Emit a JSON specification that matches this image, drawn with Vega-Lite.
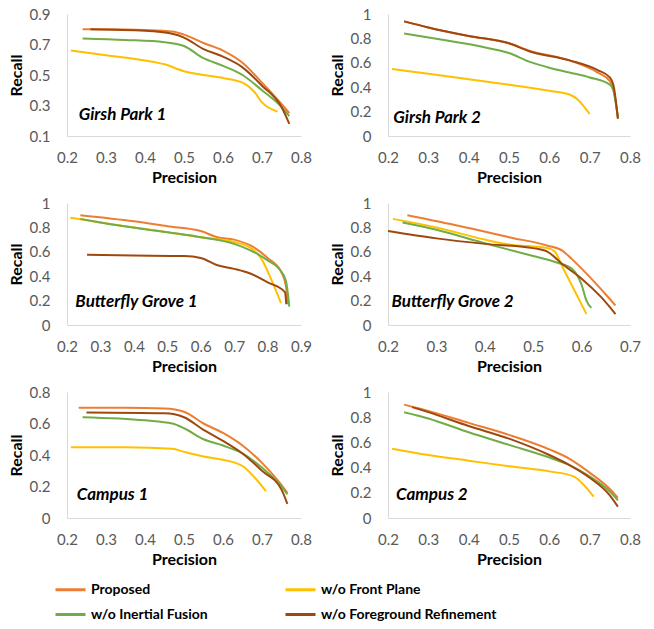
{
  "$schema": "https://vega.github.io/schema/vega-lite/v6.json",
  "padding": {"left": 8, "top": 7, "right": 5, "bottom": 5},
  "spacing": 11,
  "data": {"values": [
    {"panel":"GP1","method":"Proposed","p":0.24,"r":0.80},{"panel":"GP1","method":"Proposed","p":0.3,"r":0.80},{"panel":"GP1","method":"Proposed","p":0.4,"r":0.795},{"panel":"GP1","method":"Proposed","p":0.47,"r":0.785},{"panel":"GP1","method":"Proposed","p":0.5,"r":0.765},{"panel":"GP1","method":"Proposed","p":0.55,"r":0.71},{"panel":"GP1","method":"Proposed","p":0.6,"r":0.66},{"panel":"GP1","method":"Proposed","p":0.65,"r":0.58},{"panel":"GP1","method":"Proposed","p":0.7,"r":0.45},{"panel":"GP1","method":"Proposed","p":0.75,"r":0.31},{"panel":"GP1","method":"Proposed","p":0.77,"r":0.25},
    {"panel":"GP1","method":"w/o Front Plane","p":0.21,"r":0.66},{"panel":"GP1","method":"w/o Front Plane","p":0.3,"r":0.63},{"panel":"GP1","method":"w/o Front Plane","p":0.4,"r":0.595},{"panel":"GP1","method":"w/o Front Plane","p":0.45,"r":0.57},{"panel":"GP1","method":"w/o Front Plane","p":0.5,"r":0.525},{"panel":"GP1","method":"w/o Front Plane","p":0.55,"r":0.50},{"panel":"GP1","method":"w/o Front Plane","p":0.6,"r":0.48},{"panel":"GP1","method":"w/o Front Plane","p":0.65,"r":0.45},{"panel":"GP1","method":"w/o Front Plane","p":0.68,"r":0.39},{"panel":"GP1","method":"w/o Front Plane","p":0.7,"r":0.32},{"panel":"GP1","method":"w/o Front Plane","p":0.74,"r":0.26},
    {"panel":"GP1","method":"w/o Inertial Fusion","p":0.24,"r":0.74},{"panel":"GP1","method":"w/o Inertial Fusion","p":0.35,"r":0.73},{"panel":"GP1","method":"w/o Inertial Fusion","p":0.45,"r":0.715},{"panel":"GP1","method":"w/o Inertial Fusion","p":0.5,"r":0.69},{"panel":"GP1","method":"w/o Inertial Fusion","p":0.55,"r":0.61},{"panel":"GP1","method":"w/o Inertial Fusion","p":0.6,"r":0.56},{"panel":"GP1","method":"w/o Inertial Fusion","p":0.65,"r":0.50},{"panel":"GP1","method":"w/o Inertial Fusion","p":0.7,"r":0.40},{"panel":"GP1","method":"w/o Inertial Fusion","p":0.75,"r":0.29},{"panel":"GP1","method":"w/o Inertial Fusion","p":0.77,"r":0.23},
    {"panel":"GP1","method":"w/o Foreground Refinement","p":0.26,"r":0.80},{"panel":"GP1","method":"w/o Foreground Refinement","p":0.4,"r":0.79},{"panel":"GP1","method":"w/o Foreground Refinement","p":0.47,"r":0.77},{"panel":"GP1","method":"w/o Foreground Refinement","p":0.5,"r":0.745},{"panel":"GP1","method":"w/o Foreground Refinement","p":0.55,"r":0.67},{"panel":"GP1","method":"w/o Foreground Refinement","p":0.6,"r":0.62},{"panel":"GP1","method":"w/o Foreground Refinement","p":0.65,"r":0.55},{"panel":"GP1","method":"w/o Foreground Refinement","p":0.7,"r":0.43},{"panel":"GP1","method":"w/o Foreground Refinement","p":0.75,"r":0.29},{"panel":"GP1","method":"w/o Foreground Refinement","p":0.77,"r":0.18},

    {"panel":"GP2","method":"Proposed","p":0.24,"r":0.94},{"panel":"GP2","method":"Proposed","p":0.3,"r":0.89},{"panel":"GP2","method":"Proposed","p":0.4,"r":0.82},{"panel":"GP2","method":"Proposed","p":0.5,"r":0.76},{"panel":"GP2","method":"Proposed","p":0.55,"r":0.70},{"panel":"GP2","method":"Proposed","p":0.65,"r":0.62},{"panel":"GP2","method":"Proposed","p":0.72,"r":0.52},{"panel":"GP2","method":"Proposed","p":0.75,"r":0.45},{"panel":"GP2","method":"Proposed","p":0.76,"r":0.36},{"panel":"GP2","method":"Proposed","p":0.77,"r":0.15},
    {"panel":"GP2","method":"w/o Front Plane","p":0.21,"r":0.55},{"panel":"GP2","method":"w/o Front Plane","p":0.3,"r":0.51},{"panel":"GP2","method":"w/o Front Plane","p":0.4,"r":0.465},{"panel":"GP2","method":"w/o Front Plane","p":0.5,"r":0.42},{"panel":"GP2","method":"w/o Front Plane","p":0.6,"r":0.37},{"panel":"GP2","method":"w/o Front Plane","p":0.65,"r":0.34},{"panel":"GP2","method":"w/o Front Plane","p":0.67,"r":0.30},{"panel":"GP2","method":"w/o Front Plane","p":0.7,"r":0.18},
    {"panel":"GP2","method":"w/o Inertial Fusion","p":0.24,"r":0.84},{"panel":"GP2","method":"w/o Inertial Fusion","p":0.35,"r":0.78},{"panel":"GP2","method":"w/o Inertial Fusion","p":0.45,"r":0.72},{"panel":"GP2","method":"w/o Inertial Fusion","p":0.5,"r":0.68},{"panel":"GP2","method":"w/o Inertial Fusion","p":0.55,"r":0.61},{"panel":"GP2","method":"w/o Inertial Fusion","p":0.6,"r":0.56},{"panel":"GP2","method":"w/o Inertial Fusion","p":0.65,"r":0.52},{"panel":"GP2","method":"w/o Inertial Fusion","p":0.7,"r":0.48},{"panel":"GP2","method":"w/o Inertial Fusion","p":0.75,"r":0.42},{"panel":"GP2","method":"w/o Inertial Fusion","p":0.76,"r":0.36},{"panel":"GP2","method":"w/o Inertial Fusion","p":0.77,"r":0.15},
    {"panel":"GP2","method":"w/o Foreground Refinement","p":0.24,"r":0.94},{"panel":"GP2","method":"w/o Foreground Refinement","p":0.3,"r":0.89},{"panel":"GP2","method":"w/o Foreground Refinement","p":0.4,"r":0.82},{"panel":"GP2","method":"w/o Foreground Refinement","p":0.5,"r":0.76},{"panel":"GP2","method":"w/o Foreground Refinement","p":0.55,"r":0.695},{"panel":"GP2","method":"w/o Foreground Refinement","p":0.65,"r":0.62},{"panel":"GP2","method":"w/o Foreground Refinement","p":0.72,"r":0.54},{"panel":"GP2","method":"w/o Foreground Refinement","p":0.75,"r":0.48},{"panel":"GP2","method":"w/o Foreground Refinement","p":0.76,"r":0.40},{"panel":"GP2","method":"w/o Foreground Refinement","p":0.77,"r":0.14},

    {"panel":"BG1","method":"Proposed","p":0.24,"r":0.90},{"panel":"BG1","method":"Proposed","p":0.4,"r":0.85},{"panel":"BG1","method":"Proposed","p":0.5,"r":0.81},{"panel":"BG1","method":"Proposed","p":0.6,"r":0.77},{"panel":"BG1","method":"Proposed","p":0.65,"r":0.72},{"panel":"BG1","method":"Proposed","p":0.7,"r":0.70},{"panel":"BG1","method":"Proposed","p":0.75,"r":0.65},{"panel":"BG1","method":"Proposed","p":0.8,"r":0.55},{"panel":"BG1","method":"Proposed","p":0.84,"r":0.44},{"panel":"BG1","method":"Proposed","p":0.855,"r":0.32},{"panel":"BG1","method":"Proposed","p":0.86,"r":0.17},
    {"panel":"BG1","method":"w/o Front Plane","p":0.21,"r":0.88},{"panel":"BG1","method":"w/o Front Plane","p":0.3,"r":0.84},{"panel":"BG1","method":"w/o Front Plane","p":0.5,"r":0.76},{"panel":"BG1","method":"w/o Front Plane","p":0.6,"r":0.72},{"panel":"BG1","method":"w/o Front Plane","p":0.7,"r":0.68},{"panel":"BG1","method":"w/o Front Plane","p":0.75,"r":0.63},{"panel":"BG1","method":"w/o Front Plane","p":0.78,"r":0.55},{"panel":"BG1","method":"w/o Front Plane","p":0.81,"r":0.38},{"panel":"BG1","method":"w/o Front Plane","p":0.84,"r":0.18},
    {"panel":"BG1","method":"w/o Inertial Fusion","p":0.24,"r":0.87},{"panel":"BG1","method":"w/o Inertial Fusion","p":0.3,"r":0.84},{"panel":"BG1","method":"w/o Inertial Fusion","p":0.5,"r":0.76},{"panel":"BG1","method":"w/o Inertial Fusion","p":0.6,"r":0.72},{"panel":"BG1","method":"w/o Inertial Fusion","p":0.7,"r":0.665},{"panel":"BG1","method":"w/o Inertial Fusion","p":0.75,"r":0.61},{"panel":"BG1","method":"w/o Inertial Fusion","p":0.8,"r":0.53},{"panel":"BG1","method":"w/o Inertial Fusion","p":0.84,"r":0.44},{"panel":"BG1","method":"w/o Inertial Fusion","p":0.855,"r":0.36},{"panel":"BG1","method":"w/o Inertial Fusion","p":0.865,"r":0.15},
    {"panel":"BG1","method":"w/o Foreground Refinement","p":0.26,"r":0.575},{"panel":"BG1","method":"w/o Foreground Refinement","p":0.4,"r":0.57},{"panel":"BG1","method":"w/o Foreground Refinement","p":0.55,"r":0.565},{"panel":"BG1","method":"w/o Foreground Refinement","p":0.6,"r":0.55},{"panel":"BG1","method":"w/o Foreground Refinement","p":0.65,"r":0.49},{"panel":"BG1","method":"w/o Foreground Refinement","p":0.7,"r":0.46},{"panel":"BG1","method":"w/o Foreground Refinement","p":0.75,"r":0.42},{"panel":"BG1","method":"w/o Foreground Refinement","p":0.8,"r":0.35},{"panel":"BG1","method":"w/o Foreground Refinement","p":0.852,"r":0.27},{"panel":"BG1","method":"w/o Foreground Refinement","p":0.856,"r":0.17},

    {"panel":"BG2","method":"Proposed","p":0.24,"r":0.90},{"panel":"BG2","method":"Proposed","p":0.35,"r":0.81},{"panel":"BG2","method":"Proposed","p":0.45,"r":0.72},{"panel":"BG2","method":"Proposed","p":0.53,"r":0.65},{"panel":"BG2","method":"Proposed","p":0.56,"r":0.61},{"panel":"BG2","method":"Proposed","p":0.58,"r":0.54},{"panel":"BG2","method":"Proposed","p":0.62,"r":0.38},{"panel":"BG2","method":"Proposed","p":0.65,"r":0.25},{"panel":"BG2","method":"Proposed","p":0.67,"r":0.16},
    {"panel":"BG2","method":"w/o Front Plane","p":0.21,"r":0.87},{"panel":"BG2","method":"w/o Front Plane","p":0.3,"r":0.80},{"panel":"BG2","method":"w/o Front Plane","p":0.4,"r":0.70},{"panel":"BG2","method":"w/o Front Plane","p":0.45,"r":0.66},{"panel":"BG2","method":"w/o Front Plane","p":0.53,"r":0.63},{"panel":"BG2","method":"w/o Front Plane","p":0.545,"r":0.60},{"panel":"BG2","method":"w/o Front Plane","p":0.56,"r":0.48},{"panel":"BG2","method":"w/o Front Plane","p":0.61,"r":0.09},
    {"panel":"BG2","method":"w/o Inertial Fusion","p":0.23,"r":0.84},{"panel":"BG2","method":"w/o Inertial Fusion","p":0.3,"r":0.78},{"panel":"BG2","method":"w/o Inertial Fusion","p":0.4,"r":0.67},{"panel":"BG2","method":"w/o Inertial Fusion","p":0.5,"r":0.565},{"panel":"BG2","method":"w/o Inertial Fusion","p":0.55,"r":0.51},{"panel":"BG2","method":"w/o Inertial Fusion","p":0.58,"r":0.46},{"panel":"BG2","method":"w/o Inertial Fusion","p":0.6,"r":0.33},{"panel":"BG2","method":"w/o Inertial Fusion","p":0.61,"r":0.20},{"panel":"BG2","method":"w/o Inertial Fusion","p":0.62,"r":0.14},
    {"panel":"BG2","method":"w/o Foreground Refinement","p":0.2,"r":0.77},{"panel":"BG2","method":"w/o Foreground Refinement","p":0.3,"r":0.71},{"panel":"BG2","method":"w/o Foreground Refinement","p":0.4,"r":0.665},{"panel":"BG2","method":"w/o Foreground Refinement","p":0.5,"r":0.63},{"panel":"BG2","method":"w/o Foreground Refinement","p":0.53,"r":0.60},{"panel":"BG2","method":"w/o Foreground Refinement","p":0.56,"r":0.50},{"panel":"BG2","method":"w/o Foreground Refinement","p":0.6,"r":0.38},{"panel":"BG2","method":"w/o Foreground Refinement","p":0.64,"r":0.23},{"panel":"BG2","method":"w/o Foreground Refinement","p":0.67,"r":0.09},

    {"panel":"C1","method":"Proposed","p":0.23,"r":0.70},{"panel":"C1","method":"Proposed","p":0.35,"r":0.70},{"panel":"C1","method":"Proposed","p":0.45,"r":0.695},{"panel":"C1","method":"Proposed","p":0.5,"r":0.675},{"panel":"C1","method":"Proposed","p":0.55,"r":0.60},{"panel":"C1","method":"Proposed","p":0.6,"r":0.54},{"panel":"C1","method":"Proposed","p":0.65,"r":0.46},{"panel":"C1","method":"Proposed","p":0.7,"r":0.35},{"panel":"C1","method":"Proposed","p":0.74,"r":0.24},{"panel":"C1","method":"Proposed","p":0.765,"r":0.16},
    {"panel":"C1","method":"w/o Front Plane","p":0.21,"r":0.45},{"panel":"C1","method":"w/o Front Plane","p":0.35,"r":0.45},{"panel":"C1","method":"w/o Front Plane","p":0.47,"r":0.44},{"panel":"C1","method":"w/o Front Plane","p":0.5,"r":0.42},{"panel":"C1","method":"w/o Front Plane","p":0.55,"r":0.39},{"panel":"C1","method":"w/o Front Plane","p":0.6,"r":0.37},{"panel":"C1","method":"w/o Front Plane","p":0.65,"r":0.33},{"panel":"C1","method":"w/o Front Plane","p":0.68,"r":0.26},{"panel":"C1","method":"w/o Front Plane","p":0.71,"r":0.17},
    {"panel":"C1","method":"w/o Inertial Fusion","p":0.24,"r":0.64},{"panel":"C1","method":"w/o Inertial Fusion","p":0.4,"r":0.62},{"panel":"C1","method":"w/o Inertial Fusion","p":0.47,"r":0.60},{"panel":"C1","method":"w/o Inertial Fusion","p":0.5,"r":0.57},{"panel":"C1","method":"w/o Inertial Fusion","p":0.55,"r":0.50},{"panel":"C1","method":"w/o Inertial Fusion","p":0.6,"r":0.46},{"panel":"C1","method":"w/o Inertial Fusion","p":0.65,"r":0.41},{"panel":"C1","method":"w/o Inertial Fusion","p":0.7,"r":0.32},{"panel":"C1","method":"w/o Inertial Fusion","p":0.75,"r":0.20},{"panel":"C1","method":"w/o Inertial Fusion","p":0.765,"r":0.15},
    {"panel":"C1","method":"w/o Foreground Refinement","p":0.25,"r":0.67},{"panel":"C1","method":"w/o Foreground Refinement","p":0.45,"r":0.665},{"panel":"C1","method":"w/o Foreground Refinement","p":0.5,"r":0.64},{"panel":"C1","method":"w/o Foreground Refinement","p":0.55,"r":0.56},{"panel":"C1","method":"w/o Foreground Refinement","p":0.6,"r":0.49},{"panel":"C1","method":"w/o Foreground Refinement","p":0.65,"r":0.41},{"panel":"C1","method":"w/o Foreground Refinement","p":0.7,"r":0.30},{"panel":"C1","method":"w/o Foreground Refinement","p":0.75,"r":0.18},{"panel":"C1","method":"w/o Foreground Refinement","p":0.765,"r":0.09},

    {"panel":"C2","method":"Proposed","p":0.24,"r":0.90},{"panel":"C2","method":"Proposed","p":0.3,"r":0.85},{"panel":"C2","method":"Proposed","p":0.4,"r":0.755},{"panel":"C2","method":"Proposed","p":0.5,"r":0.66},{"panel":"C2","method":"Proposed","p":0.6,"r":0.545},{"panel":"C2","method":"Proposed","p":0.65,"r":0.47},{"panel":"C2","method":"Proposed","p":0.7,"r":0.36},{"panel":"C2","method":"Proposed","p":0.75,"r":0.23},{"panel":"C2","method":"Proposed","p":0.77,"r":0.16},
    {"panel":"C2","method":"w/o Front Plane","p":0.21,"r":0.55},{"panel":"C2","method":"w/o Front Plane","p":0.3,"r":0.50},{"panel":"C2","method":"w/o Front Plane","p":0.4,"r":0.455},{"panel":"C2","method":"w/o Front Plane","p":0.5,"r":0.41},{"panel":"C2","method":"w/o Front Plane","p":0.6,"r":0.37},{"panel":"C2","method":"w/o Front Plane","p":0.66,"r":0.33},{"panel":"C2","method":"w/o Front Plane","p":0.68,"r":0.28},{"panel":"C2","method":"w/o Front Plane","p":0.71,"r":0.17},
    {"panel":"C2","method":"w/o Inertial Fusion","p":0.24,"r":0.84},{"panel":"C2","method":"w/o Inertial Fusion","p":0.3,"r":0.79},{"panel":"C2","method":"w/o Inertial Fusion","p":0.4,"r":0.68},{"panel":"C2","method":"w/o Inertial Fusion","p":0.5,"r":0.58},{"panel":"C2","method":"w/o Inertial Fusion","p":0.6,"r":0.48},{"panel":"C2","method":"w/o Inertial Fusion","p":0.65,"r":0.42},{"panel":"C2","method":"w/o Inertial Fusion","p":0.7,"r":0.33},{"panel":"C2","method":"w/o Inertial Fusion","p":0.75,"r":0.21},{"panel":"C2","method":"w/o Inertial Fusion","p":0.77,"r":0.14},
    {"panel":"C2","method":"w/o Foreground Refinement","p":0.26,"r":0.88},{"panel":"C2","method":"w/o Foreground Refinement","p":0.3,"r":0.84},{"panel":"C2","method":"w/o Foreground Refinement","p":0.4,"r":0.73},{"panel":"C2","method":"w/o Foreground Refinement","p":0.5,"r":0.63},{"panel":"C2","method":"w/o Foreground Refinement","p":0.6,"r":0.50},{"panel":"C2","method":"w/o Foreground Refinement","p":0.65,"r":0.42},{"panel":"C2","method":"w/o Foreground Refinement","p":0.7,"r":0.32},{"panel":"C2","method":"w/o Foreground Refinement","p":0.75,"r":0.18},{"panel":"C2","method":"w/o Foreground Refinement","p":0.77,"r":0.09}
  ]},
  "vconcat": [
    {"spacing": 17, "hconcat": [
      {"width": 234, "height": 122, "layer": [
        {"transform": [{"filter": "datum.panel === 'GP1'"}], "mark": {"type": "line", "interpolate": "monotone", "strokeWidth": 2},
         "encoding": {
           "x": {"field": "p", "type": "quantitative", "title": "Precision", "scale": {"domain": [0.2, 0.8], "nice": false}, "axis": {"values": [0.2,0.3,0.4,0.5,0.6,0.7,0.8], "format": "~g", "tickCount": 30}},
           "y": {"field": "r", "type": "quantitative", "title": "Recall", "scale": {"domain": [0.1, 0.9], "nice": false, "zero": false}, "axis": {"values": [0.1,0.3,0.5,0.7,0.9], "format": "~g", "tickCount": 30}},
           "color": {"field": "method", "type": "nominal", "scale": {"domain": ["Proposed","w/o Front Plane","w/o Inertial Fusion","w/o Foreground Refinement"], "range": ["#ED7D31","#FFC000","#70AD47","#9E480E"]}, "legend": {"orient": "none", "direction": "horizontal", "legendX": -13, "legendY": 559, "columns": 2, "title": null, "symbolType": "stroke", "symbolSize": 900, "symbolStrokeWidth": 3, "labelFontSize": 14, "labelFontWeight": "bold", "labelColor": "#000", "labelLimit": 0, "columnPadding": 71, "rowPadding": 1}}
         }},
        {"data": {"values": [{"label": "Girsh Park 1", "p": 0.23, "r": 0.24}]}, "mark": {"type": "text", "align": "left", "baseline": "middle", "fontSize": 17, "fontWeight": "bold", "fontStyle": "italic"},
         "encoding": {"x": {"field": "p", "type": "quantitative"}, "y": {"field": "r", "type": "quantitative"}, "text": {"field": "label"}}}
      ]},
      {"width": 242, "height": 122, "layer": [
        {"transform": [{"filter": "datum.panel === 'GP2'"}], "mark": {"type": "line", "interpolate": "monotone", "strokeWidth": 2},
         "encoding": {
           "x": {"field": "p", "type": "quantitative", "title": "Precision", "scale": {"domain": [0.2, 0.8], "nice": false}, "axis": {"values": [0.2,0.3,0.4,0.5,0.6,0.7,0.8], "format": "~g", "tickCount": 30}},
           "y": {"field": "r", "type": "quantitative", "title": "Recall", "scale": {"domain": [0, 1], "nice": false}, "axis": {"values": [0,0.2,0.4,0.6,0.8,1], "format": "~g", "tickCount": 30}},
           "color": {"field": "method", "type": "nominal"}
         }},
        {"data": {"values": [{"label": "Girsh Park 2", "p": 0.213, "r": 0.15}]}, "mark": {"type": "text", "align": "left", "baseline": "middle", "fontSize": 17, "fontWeight": "bold", "fontStyle": "italic"},
         "encoding": {"x": {"field": "p", "type": "quantitative"}, "y": {"field": "r", "type": "quantitative"}, "text": {"field": "label"}}}
      ]}
    ]},
    {"spacing": 17, "hconcat": [
      {"width": 234, "height": 122, "layer": [
        {"transform": [{"filter": "datum.panel === 'BG1'"}], "mark": {"type": "line", "interpolate": "monotone", "strokeWidth": 2},
         "encoding": {
           "x": {"field": "p", "type": "quantitative", "title": "Precision", "scale": {"domain": [0.2, 0.9], "nice": false}, "axis": {"values": [0.2,0.3,0.4,0.5,0.6,0.7,0.8,0.9], "format": "~g", "tickCount": 30}},
           "y": {"field": "r", "type": "quantitative", "title": "Recall", "scale": {"domain": [0, 1], "nice": false}, "axis": {"values": [0,0.2,0.4,0.6,0.8,1], "format": "~g", "tickCount": 30}},
           "color": {"field": "method", "type": "nominal"}
         }},
        {"data": {"values": [{"label": "Butterfly Grove 1", "p": 0.225, "r": 0.19}]}, "mark": {"type": "text", "align": "left", "baseline": "middle", "fontSize": 17, "fontWeight": "bold", "fontStyle": "italic"},
         "encoding": {"x": {"field": "p", "type": "quantitative"}, "y": {"field": "r", "type": "quantitative"}, "text": {"field": "label"}}}
      ]},
      {"width": 242, "height": 122, "layer": [
        {"transform": [{"filter": "datum.panel === 'BG2'"}], "mark": {"type": "line", "interpolate": "monotone", "strokeWidth": 2},
         "encoding": {
           "x": {"field": "p", "type": "quantitative", "title": "Precision", "scale": {"domain": [0.2, 0.7], "nice": false}, "axis": {"values": [0.2,0.3,0.4,0.5,0.6,0.7], "format": "~g", "tickCount": 30}},
           "y": {"field": "r", "type": "quantitative", "title": "Recall", "scale": {"domain": [0, 1], "nice": false}, "axis": {"values": [0,0.2,0.4,0.6,0.8,1], "format": "~g", "tickCount": 30}},
           "color": {"field": "method", "type": "nominal"}
         }},
        {"data": {"values": [{"label": "Butterfly Grove 2", "p": 0.207, "r": 0.187}]}, "mark": {"type": "text", "align": "left", "baseline": "middle", "fontSize": 17, "fontWeight": "bold", "fontStyle": "italic"},
         "encoding": {"x": {"field": "p", "type": "quantitative"}, "y": {"field": "r", "type": "quantitative"}, "text": {"field": "label"}}}
      ]}
    ]},
    {"spacing": 17, "hconcat": [
      {"width": 234, "height": 126, "layer": [
        {"transform": [{"filter": "datum.panel === 'C1'"}], "mark": {"type": "line", "interpolate": "monotone", "strokeWidth": 2},
         "encoding": {
           "x": {"field": "p", "type": "quantitative", "title": "Precision", "scale": {"domain": [0.2, 0.8], "nice": false}, "axis": {"values": [0.2,0.3,0.4,0.5,0.6,0.7,0.8], "format": "~g", "tickCount": 30}},
           "y": {"field": "r", "type": "quantitative", "title": "Recall", "scale": {"domain": [0, 0.8], "nice": false}, "axis": {"values": [0,0.2,0.4,0.6,0.8], "format": "~g", "tickCount": 30}},
           "color": {"field": "method", "type": "nominal"}
         }},
        {"data": {"values": [{"label": "Campus 1", "p": 0.225, "r": 0.148}]}, "mark": {"type": "text", "align": "left", "baseline": "middle", "fontSize": 17, "fontWeight": "bold", "fontStyle": "italic"},
         "encoding": {"x": {"field": "p", "type": "quantitative"}, "y": {"field": "r", "type": "quantitative"}, "text": {"field": "label"}}}
      ]},
      {"width": 242, "height": 126, "layer": [
        {"transform": [{"filter": "datum.panel === 'C2'"}], "mark": {"type": "line", "interpolate": "monotone", "strokeWidth": 2},
         "encoding": {
           "x": {"field": "p", "type": "quantitative", "title": "Precision", "scale": {"domain": [0.2, 0.8], "nice": false}, "axis": {"values": [0.2,0.3,0.4,0.5,0.6,0.7,0.8], "format": "~g", "tickCount": 30}},
           "y": {"field": "r", "type": "quantitative", "title": "Recall", "scale": {"domain": [0, 1], "nice": false}, "axis": {"values": [0,0.2,0.4,0.6,0.8,1], "format": "~g", "tickCount": 30}},
           "color": {"field": "method", "type": "nominal"}
         }},
        {"data": {"values": [{"label": "Campus 2", "p": 0.22, "r": 0.18}]}, "mark": {"type": "text", "align": "left", "baseline": "middle", "fontSize": 17, "fontWeight": "bold", "fontStyle": "italic"},
         "encoding": {"x": {"field": "p", "type": "quantitative"}, "y": {"field": "r", "type": "quantitative"}, "text": {"field": "label"}}}
      ]}
    ]}
  ],
  "config": {
    "font": "Lato",
    "view": {"stroke": null},
    "axis": {"grid": false, "ticks": false, "domainColor": "#d9d9d9", "labelFontSize": 15, "labelColor": "#595959", "labelPadding": 17, "labelOverlap": false, "labelFlush": false, "titleFontSize": 16, "titleFontWeight": "bold", "titleColor": "#000", "titlePadding": 5},
    "axisX": {"labelPadding": 14, "titlePadding": 4}
  }
}
